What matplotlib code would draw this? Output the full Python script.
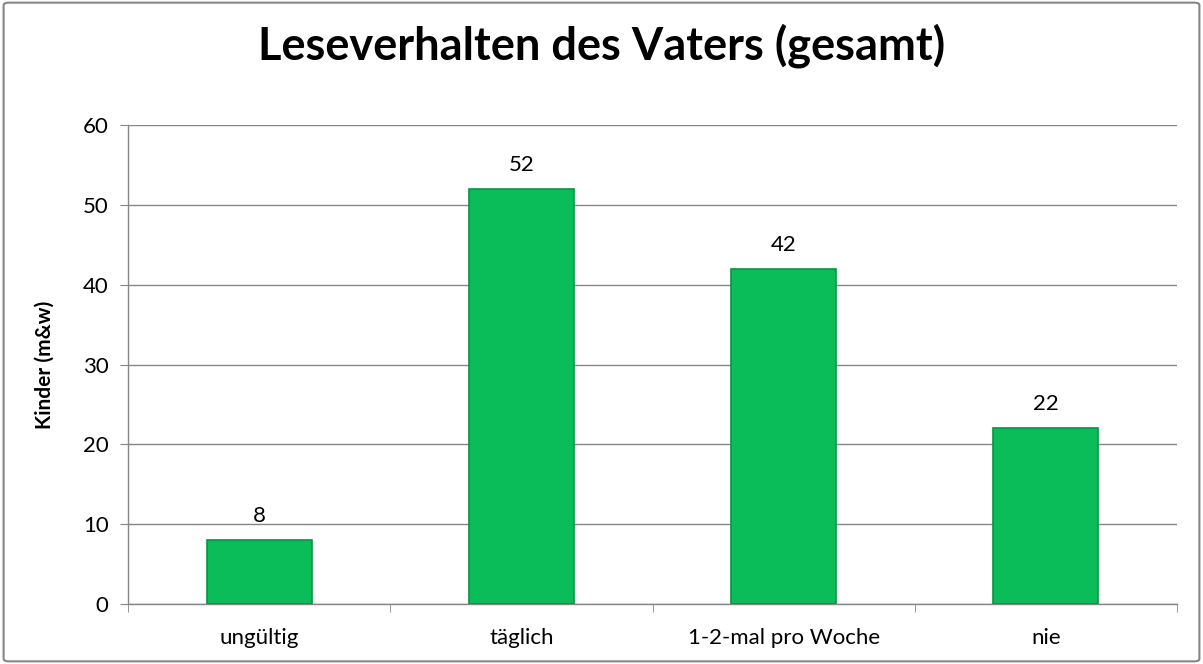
import matplotlib.pyplot as plt
from matplotlib.patches import FancyBboxPatch
import numpy as np

categories = ["ungültig", "täglich", "1-2-mal pro Woche", "nie"]
values = [8, 52, 42, 22]
title = "Leseverhalten des Vaters (gesamt)"
ylabel = "Kinder (m&w)"

plt.rcParams['font.family'] = ['Lato', 'DejaVu Sans']

fig = plt.figure(figsize=(12.03, 6.64), dpi=100)
ax = fig.add_axes([0.1064, 0.0904, 0.8720, 0.7213])

x = np.arange(len(categories))
ax.bar(x, values, width=0.4, color="#0bbd58", edgecolor="#079445",
       linewidth=1.2, zorder=3)

for xi, v in zip(x, values):
    ax.annotate(str(v), (xi, v), xytext=(0, 10), textcoords="offset points",
                ha="center", va="bottom", fontsize=16, color="black")

ax.set_xlim(-0.5, len(categories) - 0.5)
ax.set_ylim(0, 60)
ax.set_yticks(range(0, 61, 10))
ax.tick_params(axis="y", labelsize=16, length=6, color="#868686", pad=8)

ax.set_xticks(x)
ax.set_xticklabels(categories, fontsize=16)
ax.set_xticks(np.arange(-0.5, len(categories)), minor=True)
ax.tick_params(axis="x", which="major", length=0, pad=17)
ax.tick_params(axis="x", which="minor", length=6, color="#868686")

ax.grid(axis="y", color="#868686", linewidth=1.0, zorder=0)
ax.set_axisbelow(True)
for side in ["top", "right"]:
    ax.spines[side].set_visible(False)
for side in ["left", "bottom"]:
    ax.spines[side].set_color("#868686")
    ax.spines[side].set_linewidth(1.0)

ax.set_ylabel(ylabel, fontsize=15, fontweight="bold", labelpad=20)
fig.suptitle(title, fontsize=32.5, fontweight="bold", y=0.965)

border = FancyBboxPatch((0.003, 0.004), 0.994, 0.992,
                        boxstyle="round,pad=0,rounding_size=0.004",
                        transform=fig.transFigure, fill=False,
                        edgecolor="#868686", linewidth=1.5)
fig.patches.append(border)

fig.savefig("out.png", dpi=100)
